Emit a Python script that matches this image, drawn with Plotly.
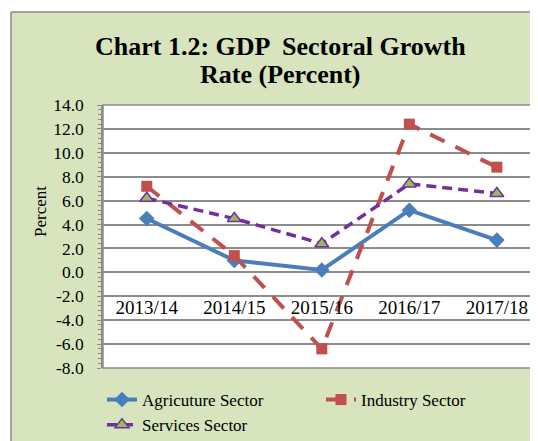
import plotly.graph_objects as go

years = ["2013/14", "2014/15", "2015/16", "2016/17", "2017/18"]
agriculture = [4.5, 1.0, 0.2, 5.2, 2.7]
industry = [7.2, 1.4, -6.4, 12.4, 8.8]
services = [6.2, 4.5, 2.4, 7.4, 6.6]
y_ticks = [-8, -6, -4, -2, 0, 2, 4, 6, 8, 10, 12, 14]
y_tick_text = [f"{v:.1f}" for v in y_ticks]
title_lines = ["Chart 1.2: GDP  Sectoral Growth", "Rate (Percent)"]
y_title = "Percent"

# page is offset by the browser's default 8px body margin
OFF = 8
PAGE_W, PAGE_H = 538, 441
W, H = PAGE_W - OFF, PAGE_H - OFF
# plot area in page pixels
PL, PR, PT, PB = 103, 538, 105, 368
L, T = PL - OFF, PT - OFF
R = W - (PR - OFF)
B = H - (PB - OFF)
PW, PH = W - L - R, H - T - B

def px(x):
    return (x - OFF - L) / PW

def py(y):
    return (H - B - (y - OFF)) / PH

GREEN = "#D7E4BD"
GRID = "#8C8C8C"
FONT = "Liberation Serif"

fig = go.Figure()
fig.add_trace(go.Scatter(
    x=years, y=agriculture, name="Agricuture Sector", mode="lines+markers",
    line=dict(color="#4A7EBB", width=4),
    marker=dict(symbol="diamond", size=12, color="#4A7EBB")))
fig.add_trace(go.Scatter(
    x=years, y=industry, name="Industry Sector", mode="lines+markers",
    line=dict(color="#C0504D", width=4, dash="16px,12px"),
    marker=dict(symbol="square", size=11, color="#C0504D")))
fig.add_trace(go.Scatter(
    x=years, y=services, name="Services Sector", mode="lines+markers",
    line=dict(color="#7030A0", width=3.5, dash="10px,6px"),
    marker=dict(symbol="triangle-up", size=12, color="#9BBB59",
                line=dict(color="#7030A0", width=1.5))))

shapes = [
    dict(type="rect", xref="paper", yref="paper", x0=px(-20), x1=px(11), y0=py(PAGE_H + 20), y1=py(-20),
         fillcolor="white", line=dict(width=0), layer="below"),
    dict(type="rect", xref="paper", yref="paper", x0=px(-20), x1=px(PAGE_W + 20), y0=py(12), y1=py(-20),
         fillcolor="white", line=dict(width=0), layer="below"),
    dict(type="line", xref="paper", yref="paper", x0=px(11), x1=px(11), y0=py(12), y1=py(PAGE_H + 20),
         line=dict(color=GRID, width=1.5)),
    dict(type="line", xref="paper", yref="paper", x0=px(11), x1=px(PAGE_W + 20), y0=py(12), y1=py(12),
         line=dict(color=GRID, width=1.5)),
    dict(type="rect", xref="paper", yref="paper", x0=0, x1=1.02, y0=0, y1=1,
         line=dict(color=GRID, width=1.5), layer="below"),
]

annotations = [
    dict(text=f"<b>{title_lines[0]}</b>", xref="paper", yref="paper", x=px(280), y=py(47),
         xanchor="center", yanchor="middle", showarrow=False,
         font=dict(family=FONT, size=26, color="black")),
    dict(text=f"<b>{title_lines[1]}</b>", xref="paper", yref="paper", x=px(280), y=py(75),
         xanchor="center", yanchor="middle", showarrow=False,
         font=dict(family=FONT, size=26, color="black")),
    dict(text=y_title, xref="paper", yref="paper", x=px(40), y=py(211), textangle=-90,
         xanchor="center", yanchor="middle", showarrow=False,
         font=dict(family=FONT, size=17, color="black")),
]

fig.update_layout(
    width=W, height=H,
    margin=dict(l=L, r=R, t=T, b=B, autoexpand=False, pad=0),
    paper_bgcolor=GREEN, plot_bgcolor="white",
    font=dict(family=FONT, color="black", size=17),
    shapes=shapes,
    annotations=annotations,
    xaxis=dict(range=[-0.5, 4.47], showgrid=False, showline=False, zeroline=False,
               ticks="", anchor="free", position=py(294), ticklabelstandoff=0,
               automargin=False,
               tickfont=dict(family=FONT, size=19)),
    yaxis=dict(range=[-8, 14], tickvals=y_ticks, ticktext=y_tick_text,
               showgrid=True, gridcolor=GRID, gridwidth=1.5,
               zeroline=True, zerolinecolor=GRID, zerolinewidth=1.5,
               showline=True, linecolor=GRID, linewidth=1.5,
               ticks="outside", ticklen=4, tickcolor=GRID,
               minor=dict(ticks="outside", ticklen=3, tickcolor=GRID, dtick=0.4),
               ticklabelstandoff=10, automargin=False,
               tickfont=dict(family=FONT, size=17.5)),
    legend=dict(orientation="h", x=px(102), xanchor="left", y=py(382), yanchor="top",
                entrywidth=174, entrywidthmode="pixels", bgcolor="rgba(0,0,0,0)",
                font=dict(family=FONT, size=17), tracegroupgap=0),
    showlegend=True,
)

fig.write_html("out.html")
